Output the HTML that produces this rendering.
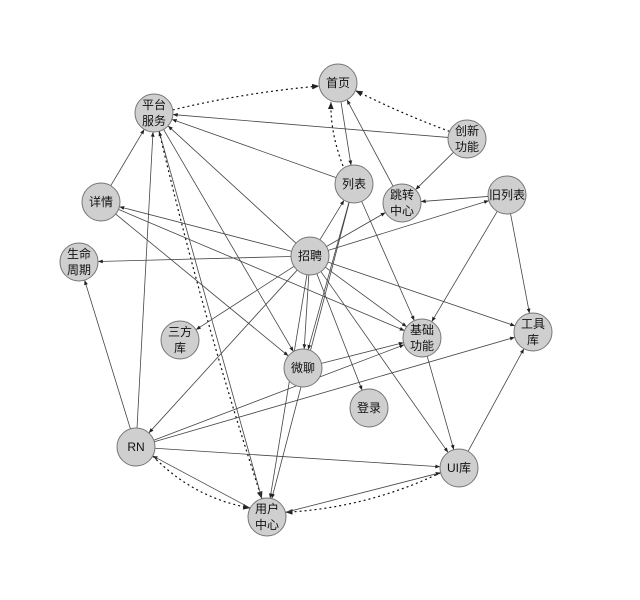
<!DOCTYPE html>
<html><head><meta charset="utf-8"><style>
html,body{margin:0;padding:0;background:#fff;}
svg{display:block;}
text{font-family:"Liberation Sans","Noto Sans CJK SC",sans-serif;font-size:12px;fill:#111;text-anchor:middle;}
</style></head><body>
<svg id="s" width="640" height="600" xmlns="http://www.w3.org/2000/svg">
<defs>
<marker id="a" viewBox="0 0 10 10" refX="10" refY="5" markerWidth="6" markerHeight="6" orient="auto"><path d="M0,1 L10,5 L0,9 z" fill="#222"/></marker>
</defs>
<g id="edges" stroke="#444" stroke-width="0.8" fill="none">
<path d="M343,166 Q330,132 331,102" stroke-dasharray="2,3" stroke="#111" stroke-width="1.2" marker-end="url(#a)"/>
</g>
<g id="nodes"></g>
</svg>
<script>
var N={
sy:[338,83,"首页"],pt:[154,113,"平台\n服务"],cx:[467,139,"创新\n功能"],lb:[354,184,"列表"],
tz:[402,203,"跳转\n中心"],jl:[507,195,"旧列表"],xq:[101,202,"详情"],zp:[310,256,"招聘"],
sm:[79,262,"生命\n周期"],sf:[180,340,"三方\n库"],wl:[303,368,"微聊"],jc:[422,338,"基础\n功能"],
gj:[533,332,"工具\n库"],dl:[369,408,"登录"],rn:[136,447,"RN"],ui:[459,468,"UI库"],yh:[267,517,"用户\n中心"]};
var R=19;
var E=[
["pt","sy",0.03,1],["cx","sy",0.02],["pt","yh",-0.02,1],["rn","yh",-0.12,1],["ui","yh",0.08],
["cx","pt"],["cx","tz"],["sy","lb"],["tz","sy"],["lb","pt"],["jl","tz"],["zp","jl"],["zp","tz"],["zp","lb"],
["xq","pt"],["zp","xq"],["zp","sm"],["zp","pt"],["xq","wl"],["xq","jc"],["pt","wl"],["yh","pt"],["rn","pt"],
["rn","sm"],["zp","rn"],["zp","sf"],["zp","wl"],["lb","wl"],["lb","yh"],["zp","yh"],["zp","dl"],["zp","jc"],
["zp","gj"],["zp","ui"],["lb","jc"],["jl","jc"],["jl","gj"],["wl","jc"],["rn","jc"],["rn","gj"],["rn","ui"],
["yh","rn"],["yh","ui"],["jc","ui"],["ui","gj"]];
var ns="http://www.w3.org/2000/svg",eg=document.getElementById("edges"),ng=document.getElementById("nodes");
E.forEach(function(e){var a=N[e[0]],b=N[e[1]];var dx=b[0]-a[0],dy=b[1]-a[1],d=Math.hypot(dx,dy),ux=dx/d,uy=dy/d;
var p;
if(e[2]!==undefined){var mx=(a[0]+b[0])/2,my=(a[1]+b[1])/2,off=d*e[2];var cxp=mx+uy*off,cyp=my-ux*off;
p=document.createElementNS(ns,"path");
p.setAttribute("d","M"+(a[0]+ux*R)+","+(a[1]+uy*R)+" Q"+cxp+","+cyp+" "+(b[0]-ux*R)+","+(b[1]-uy*R));
p.setAttribute("stroke-dasharray","2,3");p.setAttribute("stroke","#111");p.setAttribute("stroke-width","1.2");
if(e[3])p.setAttribute("marker-start","url(#a)");}
else{p=document.createElementNS(ns,"line");p.setAttribute("x1",a[0]+ux*R);p.setAttribute("y1",a[1]+uy*R);
p.setAttribute("x2",b[0]-ux*R);p.setAttribute("y2",b[1]-uy*R);}
p.setAttribute("marker-end","url(#a)");eg.appendChild(p);});
for(var k in N){var n=N[k];var c=document.createElementNS(ns,"circle");c.setAttribute("cx",n[0]);c.setAttribute("cy",n[1]);c.setAttribute("r",R);
c.setAttribute("fill","#cfcfcf");c.setAttribute("stroke","#777");c.setAttribute("stroke-width","1");ng.appendChild(c);
var ls=n[2].split("\n");ls.forEach(function(l,i){var t=document.createElementNS(ns,"text");t.setAttribute("x",n[0]);
t.setAttribute("y",n[1]+4+(ls.length==2?(i==0?-8:8):0));if(ls.length==1&&l.length<=2)t.setAttribute("font-size","13");
if(l=="旧列表")t.setAttribute("font-size","10");t.textContent=l;ng.appendChild(t);});}
</script>
</body></html>
